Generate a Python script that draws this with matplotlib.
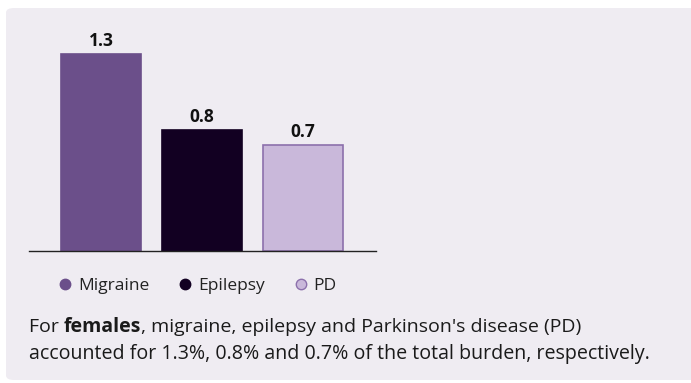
import matplotlib
matplotlib.use("Agg")
import matplotlib.pyplot as plt
from matplotlib.patches import FancyBboxPatch
from matplotlib.lines import Line2D

categories = ["Migraine", "Epilepsy", "PD"]
values = [1.3, 0.8, 0.7]
value_labels = ["1.3", "0.8", "0.7"]
fill_colors = ["#6B4F8A", "#120022", "#C9B8DA"]
edge_colors = ["#6B4F8A", "#120022", "#8C70AC"]

caption_parts = [("For ", "normal"), ("females", "bold"),
                 (", migraine, epilepsy and Parkinson's disease (PD)", "normal")]
caption_line2 = "accounted for 1.3%, 0.8% and 0.7% of the total burden, respectively."

plt.rcParams["font.family"] = ["Open Sans", "DejaVu Sans"]

W, H = 691, 383
fig = plt.figure(figsize=(W / 100, H / 100), dpi=100)
fig.patch.set_facecolor("white")

# rounded background panel
panel = FancyBboxPatch((6 / W, 3 / H), (W + 10) / W, 372 / H,
                       boxstyle="round,pad=0,rounding_size=0.012",
                       transform=fig.transFigure, facecolor="#EFECF2",
                       edgecolor="none", zorder=-5)
fig.patches.append(panel)

ax = fig.add_axes([29 / W, (H - 251) / H, 347 / W, 221 / H])
ax.set_facecolor("none")
ax.set_zorder(2)
x = list(range(len(categories)))
ax.bar(x, values, width=0.79, color=fill_colors,
       edgecolor=edge_colors, linewidth=1.2, zorder=2)
for xi, v, lab in zip(x, values, value_labels):
    ax.annotate(lab, (xi, v), xytext=(0, 3), textcoords="offset points",
                ha="center", va="bottom", fontsize=12.5, fontweight="bold",
                color="#111111")
ax.set_xlim(-0.713, 2.723)
ax.set_ylim(0, 1.459)
for s in ["top", "right", "left"]:
    ax.spines[s].set_visible(False)
ax.spines["bottom"].set_color("#222222")
ax.spines["bottom"].set_linewidth(1.0)
ax.set_xticks([])
ax.set_yticks([])

handles = [Line2D([], [], marker="o", linestyle="none", markersize=7.5,
                  markerfacecolor=fc, markeredgecolor=ec, markeredgewidth=1.0)
           for fc, ec in zip(fill_colors, edge_colors)]
fig.legend(handles, categories, ncol=3, frameon=False,
           loc="center left", bbox_to_anchor=(41 / W, 1 - 286 / H),
           fontsize=12.5, handletextpad=0.25, columnspacing=1.55,
           handlelength=1.0, labelcolor="#222222")

# caption, first line with a bold word
renderer = fig.canvas.get_renderer()
x0 = 29 / W
for txt, weight in caption_parts:
    t = fig.text(x0, 1 - 327 / H, txt, fontsize=14, fontweight=weight,
                 va="center", ha="left", color="#1a1a1a")
    bb = t.get_window_extent(renderer=renderer)
    x0 = bb.x1 / fig.bbox.width
fig.text(29 / W, 1 - 354 / H, caption_line2,
         fontsize=14.1, va="center", ha="left", color="#1a1a1a")

fig.savefig("out.png", dpi=100)
